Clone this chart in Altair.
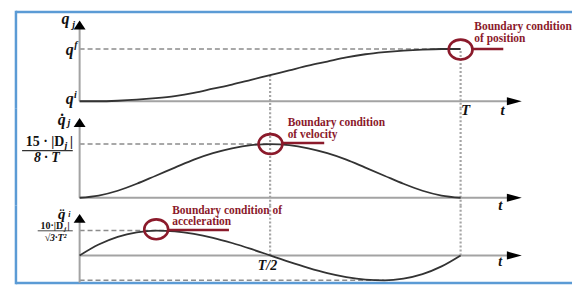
import altair as alt
import pandas as pd

# ---------------- data (normalised time t/T) -------------
t_norm = [0.0, 0.05, 0.1, 0.15, 0.2, 0.25, 0.3, 0.35, 0.4, 0.45, 0.5,
          0.55, 0.6, 0.65, 0.7, 0.75, 0.8, 0.85, 0.9, 0.95, 1.0]
position = [0.00, 0.00, 0.01, 0.03, 0.06, 0.10, 0.16, 0.24, 0.32, 0.41, 0.50,
            0.59, 0.68, 0.76, 0.84, 0.90, 0.94, 0.97, 0.99, 1.00, 1.00]
velocity = [0.00, 0.04, 0.13, 0.26, 0.41, 0.56, 0.71, 0.83, 0.92, 0.98, 1.00,
            0.98, 0.92, 0.83, 0.71, 0.56, 0.41, 0.26, 0.13, 0.04, 0.00]
acceleration = [0.00, 0.44, 0.75, 0.93, 1.00, 0.97, 0.87, 0.71, 0.50, 0.26, 0.00,
                -0.26, -0.50, -0.71, -0.87, -0.97, -1.00, -0.93, -0.75, -0.44, 0.00]

annotation_texts = [
    ["Boundary condition", "of position"],
    ["Boundary condition", "of velocity"],
    ["Boundary condition of", "acceleration"],
]
tick_T = "T"
tick_half = "T/2"
time_label = "t"

# ---------------- layout / style ------------------------------------------------
X_DOMAIN = [-0.1697, 1.2924]
FRAME_X = -0.1671
W = 560
Y1 = [-0.133, 1.733]
Y2 = [-0.148, 1.667]
Y3 = [-1.16, 2.0]
H1, H2, H3 = 98, 98, 79

AXIS = dict(color="#a3a3a3", strokeWidth=2)
DASH = dict(color="#8c8c8c", strokeWidth=1.4, strokeDash=[5, 3])
DOT = dict(color="#a5a5a5", strokeWidth=2.2, strokeDash=[2, 2])
FRAME = dict(color="#5b9bd5", strokeWidth=2.5)
RED = "#8b1a2b"
LAB = dict(font="Liberation Serif", fontWeight="bold", fontStyle="italic",
           color="#111111", baseline="middle")
RTXT = dict(font="Liberation Serif", fontWeight="bold", color=RED, fontSize=11.5,
            align="left", baseline="middle")

ARROW_UP = "M-1,0.75L0,-0.75L1,0.75Z"
ARROW_RIGHT = "M-1,-0.55L1,0L-1,0.55Z"
ELLIPSE = "M-1,0A1,0.83,0,1,1,1,0A1,0.83,0,1,1,-1,0Z"


def xenc():
    return alt.X("s:Q", scale=alt.Scale(domain=X_DOMAIN), axis=None)


def yenc(ydom):
    return alt.Y("v:Q", scale=alt.Scale(domain=ydom), axis=None)


def segs(rows, ydom, **mark):
    df = pd.DataFrame(rows, columns=["s", "s2", "v", "v2"])
    return alt.Chart(df).mark_rule(**mark).encode(
        x=xenc(), x2="s2:Q", y=yenc(ydom), y2="v2:Q")


def pts(rows, ydom, **mark):
    df = pd.DataFrame(rows, columns=["s", "v"])
    return alt.Chart(df).mark_point(**mark).encode(x=xenc(), y=yenc(ydom))


def txt(rows, ydom, **mark):
    df = pd.DataFrame(rows, columns=["s", "v", "label"])
    return alt.Chart(df).mark_text(**mark).encode(x=xenc(), y=yenc(ydom), text="label:N")


def curve(values, ydom):
    df = pd.DataFrame({"s": t_norm, "v": values})
    return alt.Chart(df).mark_line(color="#333333", strokeWidth=1.8,
                                   interpolate="monotone").encode(x=xenc(), y=yenc(ydom))


def arrows(ydom, ytip):
    return [
        pts([[0.0, ytip]], ydom, shape=ARROW_UP, size=144, filled=True,
            color="#000000", opacity=1, strokeWidth=0),
        pts([[1.141, 0.0]], ydom, shape=ARROW_RIGHT, size=225, filled=True,
            color="#000000", opacity=1, strokeWidth=0),
    ]


def ellipse(s, v, ydom):
    return pts([[s, v]], ydom, shape=ELLIPSE, size=576, filled=False,
               color=RED, strokeWidth=2.6, opacity=1)


# ---------------- panel 1 : position -------------------------------------------
p1 = alt.layer(
    segs([[FRAME_X, FRAME_X, Y1[0], Y1[1]],
          [FRAME_X, X_DOMAIN[1], 1.710, 1.710]], Y1, **FRAME),
    segs([[0.5, 0.5, 0.5, Y1[0]], [1.0, 1.0, 0.96, Y1[0]]], Y1, **DOT),
    segs([[0.0, 1.0, 1.0, 1.0]], Y1, **DASH),
    segs([[0.0, 0.0, 0.0, 1.45], [0.0, 1.13, 0.0, 0.0]], Y1, **AXIS),
    curve(position, Y1),
    *arrows(Y1, 1.46),
    ellipse(1.0, 0.99, Y1),
    segs([[1.028, 1.112, 1.0, 1.0]], Y1, color=RED, strokeWidth=2.6),
    txt([[1.036, 1.43, annotation_texts[0][0]],
         [1.036, 1.185, annotation_texts[0][1]]], Y1, **RTXT),
    txt([[-0.037, 1.566, "q"], [-0.026, 0.981, "q"], [-0.026, 0.038, "q"]], Y1,
        align="center", fontSize=16, **LAB),
    txt([[1.013, -0.162, tick_T], [1.110, -0.162, time_label]], Y1,
        align="center", fontSize=15, **LAB),
    txt([[-0.016, 1.46, "j"], [-0.010, 1.07, "f"], [-0.011, 0.12, "i"]], Y1,
        align="center", fontSize=10, **LAB),
).properties(width=W, height=H1)

# ---------------- panel 2 : velocity -------------------------------------------
p2 = alt.layer(
    segs([[FRAME_X, FRAME_X, Y2[0], Y2[1]]], Y2, **FRAME),
    segs([[0.5, 0.5, Y2[0], Y2[1]], [1.0, 1.0, Y2[0], Y2[1]]], Y2, **DOT),
    segs([[0.0, 0.5, 1.0, 1.0]], Y2, **DASH),
    segs([[0.0, 0.0, 0.0, 1.39], [0.0, 1.13, 0.0, 0.0]], Y2, **AXIS),
    curve(velocity, Y2),
    *arrows(Y2, 1.40),
    ellipse(0.501, 1.0, Y2),
    segs([[0.533, 0.642, 1.02, 1.02]], Y2, color=RED, strokeWidth=2.6),
    txt([[0.546, 1.40, annotation_texts[1][0]],
         [0.546, 1.17, annotation_texts[1][1]]], Y2, **RTXT),
    txt([[-0.047, 1.455, "q\u0307"]], Y2, align="center", fontSize=16, **LAB),
    txt([[1.104, -0.127, time_label]], Y2, align="center", fontSize=15, **LAB),
    txt([[-0.028, 1.39, "j"]], Y2, align="center", fontSize=10, **LAB),
    # fraction 15·|Dj| / 8·T
    txt([[-0.040, 1.036, "15 · |D"]], Y2, align="right", fontSize=14,
        **{**LAB, "fontStyle": "normal"}),
    txt([[-0.036, 0.96, "j"]], Y2, align="center", fontSize=10, **LAB),
    txt([[-0.021, 1.036, "|"]], Y2, align="center", fontSize=14, **LAB),
    segs([[-0.151, -0.018, 0.878, 0.878]], Y2, color="#333333", strokeWidth=1.1),
    txt([[-0.086, 0.745, "8 · T"]], Y2, align="center", fontSize=14, **LAB),
).properties(width=W, height=H2)

# ---------------- panel 3 : acceleration ---------------------------------------
p3 = alt.layer(
    segs([[FRAME_X, FRAME_X, Y3[0], Y3[1]],
          [FRAME_X, X_DOMAIN[1], -1.112, -1.112]], Y3, **FRAME),
    segs([[0.5, 0.5, Y3[1], 0.0], [1.0, 1.0, Y3[1], 0.0]], Y3, **DOT),
    segs([[0.0, 0.25, 1.0, 1.0], [0.0, 0.80, -1.0, -1.0]], Y3, **DASH),
    segs([[0.0, 0.0, -1.10, 1.47], [0.0, 1.13, 0.0, 0.0]], Y3, **AXIS),
    curve(acceleration, Y3),
    *arrows(Y3, 1.49),
    ellipse(0.201, 1.05, Y3),
    segs([[0.232, 0.392, 1.02, 1.02]], Y3, color=RED, strokeWidth=2.6),
    txt([[0.243, 1.80, annotation_texts[2][0]],
         [0.243, 1.33, annotation_texts[2][1]]], Y3, **RTXT),
    txt([[-0.047, 1.68, "q\u0308"]], Y3, align="center", fontSize=15, **LAB),
    txt([[0.493, -0.42, tick_half], [1.104, -0.27, time_label]], Y3,
        align="center", fontSize=14, **LAB),
    txt([[-0.027, 1.62, "i"]], Y3, align="center", fontSize=8, **LAB),
    # fraction 10·|Dj| / √3·T²
    txt([[-0.043, 1.18, "10·|D"]], Y3, align="right", fontSize=10,
        **{**LAB, "fontStyle": "normal"}),
    txt([[-0.038, 1.06, "j"]], Y3, align="center", fontSize=7, **LAB),
    txt([[-0.029, 1.18, "|"]], Y3, align="center", fontSize=10, **LAB),
    segs([[-0.110, -0.018, 0.99, 0.99]], Y3, color="#333333", strokeWidth=0.9),
    txt([[-0.063, 0.71, "√3·T²"]], Y3, align="center", fontSize=10, **LAB),
).properties(width=W, height=H3)

chart = alt.vconcat(p1, p2, p3, spacing=0, bounds="flush").properties(
    padding={"left": 6, "top": 0, "right": 0, "bottom": 0},
    background="white",
).configure_view(stroke=None)

chart.save("out.html", embed_options={"renderer": "svg", "actions": False})
